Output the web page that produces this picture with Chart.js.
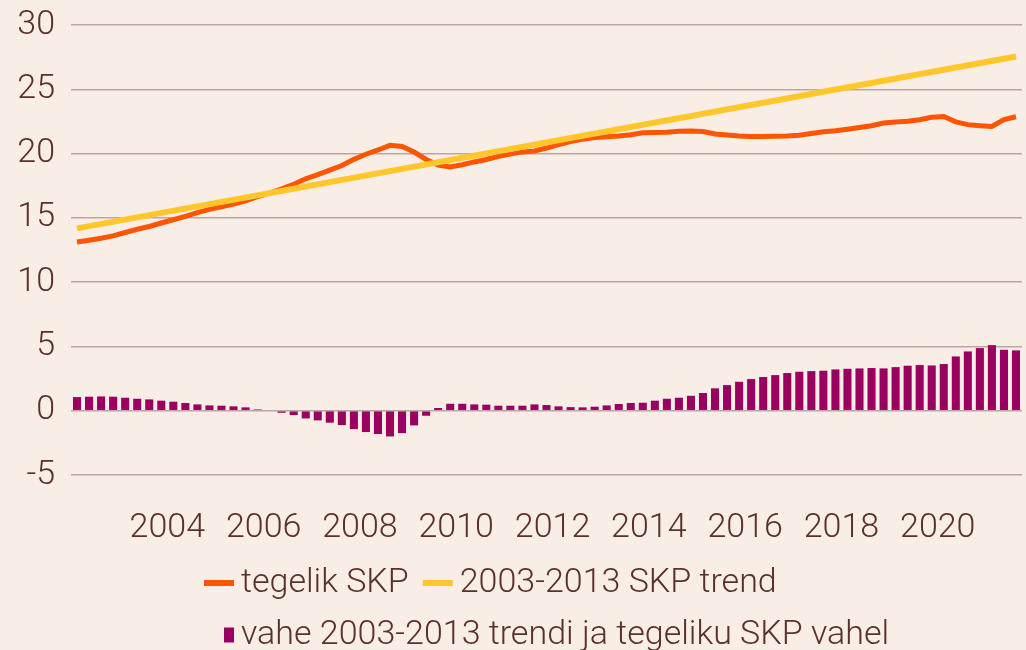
<!DOCTYPE html>
<html>
<head>
<meta charset="utf-8">
<script src="https://cdn.jsdelivr.net/npm/chart.js@4"></script>
<style>
  html, body { margin: 0; padding: 0; background: #f8eee5; }
  #wrap { width: 1026px; height: 650px; }
</style>
</head>
<body>
<div id="wrap"><canvas id="chart"></canvas></div>
<script>
// quarterly categories, 2002 Q1 .. 2021 Q3
var years = [];
for (var y = 2002; y <= 2021; y++) years.push(y);
var labels = [];
years.forEach(function (yr) {
  for (var q = 1; q <= 4; q++) labels.push(yr + " Q" + q);
});
labels = labels.slice(0, 79);

var tickYears = ["2004", "2006", "2008", "2010", "2012", "2014", "2016", "2018", "2020"];

// tegelik SKP
var actual = [
  13.12, 13.26, 13.41, 13.60, 13.86, 14.11, 14.33, 14.60, 14.85, 15.12,
  15.40, 15.66, 15.85, 16.07, 16.32, 16.65, 16.92, 17.25, 17.61, 18.04,
  18.36, 18.71, 19.07, 19.55, 19.95, 20.28, 20.64, 20.55, 20.12, 19.54,
  19.11, 18.95, 19.13, 19.35, 19.54, 19.79, 19.96, 20.13, 20.20, 20.43,
  20.70, 20.93, 21.12, 21.24, 21.31, 21.37, 21.46, 21.62, 21.63, 21.65,
  21.74, 21.76, 21.71, 21.52, 21.45, 21.36, 21.32, 21.33, 21.35, 21.36,
  21.43, 21.56, 21.70, 21.77, 21.89, 22.03, 22.17, 22.37, 22.45, 22.51,
  22.63, 22.83, 22.89, 22.47, 22.25, 22.17, 22.11, 22.64, 22.86
];

// 2003-2013 SKP trend (straight line, start and end values)
var trendStart = 14.18;
var trendEnd = 27.55;

// vahe trendi ja tegeliku SKP vahel
var gap = [
  1.06, 1.09, 1.11, 1.09, 1.01, 0.93, 0.88, 0.78, 0.70, 0.60,
  0.49, 0.41, 0.39, 0.34, 0.26, 0.10, 0.00, -0.16, -0.34, -0.60,
  -0.75, -0.93, -1.12, -1.43, -1.66, -1.81, -2.00, -1.74, -1.14, -0.39,
  0.21, 0.54, 0.54, 0.49, 0.47, 0.39, 0.39, 0.39, 0.49, 0.44,
  0.34, 0.28, 0.26, 0.31, 0.41, 0.52, 0.60, 0.62, 0.78, 0.93,
  1.01, 1.16, 1.38, 1.74, 1.99, 2.25, 2.46, 2.62, 2.77, 2.93,
  3.03, 3.08, 3.11, 3.21, 3.26, 3.29, 3.32, 3.29, 3.39, 3.50,
  3.55, 3.52, 3.63, 4.22, 4.61, 4.87, 5.10, 4.74, 4.69
];

var txt = "#5a302c";
var gridCol = "#bca6a1";
var FONT = { family: "Roboto", size: 34, weight: 300 };

// legend marks: canvas 80 wide, centred on box middle (x+8), so offset 32 = box start
function swatch(x0, w, h, col) {
  var c = document.createElement("canvas");
  c.width = 80; c.height = 18;
  var g = c.getContext("2d");
  g.fillStyle = col;
  g.fillRect(32 + x0, (18 - h) / 2, w, h);
  return c;
}
var marks = [
  swatch(-4, 30, 6, "#ff5500"),
  swatch(-4, 30, 6, "#ffc72c"),
  swatch(16, 10, 15, "#990060")
];

var bgPlugin = {
  id: "bg",
  beforeDraw: function (chart) {
    var ctx = chart.ctx;
    ctx.save();
    ctx.fillStyle = "#f8eee5";
    ctx.fillRect(0, 0, chart.width, chart.height);
    ctx.restore();
  }
};

// move the legend block to where the reference has it,
// and let the x labels draw below the (short) x axis box
var legendPos = {
  id: "legendPos",
  afterLayout: function (chart) {
    var lg = chart.legend;
    lg.left = 190;
    lg.top += 12;
    chart.scales.x.bottom += 30;
  }
};

new Chart(document.getElementById("chart"), {
  type: "bar",
  data: {
    labels: labels,
    datasets: [
      {
        type: "line",
        label: "tegelik SKP",
        data: actual,
        borderColor: "#ff5500",
        backgroundColor: "#ff5500",
        borderWidth: 5,
        pointRadius: 0,
        tension: 0,
        order: 1
      },
      {
        type: "line",
        label: "2003-2013 SKP trend",
        data: [{ x: labels[0], y: trendStart }, { x: labels[labels.length - 1], y: trendEnd }],
        borderColor: "#ffc72c",
        backgroundColor: "#ffc72c",
        borderWidth: 6,
        pointRadius: 0,
        order: 0
      },
      {
        label: "vahe 2003-2013 trendi ja tegeliku SKP vahel",
        data: gap,
        backgroundColor: "#990060",
        barPercentage: 0.67,
        categoryPercentage: 1,
        order: 2
      }
    ]
  },
  options: {
    responsive: true,
    maintainAspectRatio: false,
    animation: false,
    layout: { padding: { top: 25, right: 4, left: 0, bottom: 0 } },
    plugins: {
      tooltip: { enabled: false },
      legend: {
        position: "bottom",
        align: "start",
        labels: {
          color: txt,
          font: FONT,
          usePointStyle: true,
          pointStyleWidth: 16,
          padding: 18,
          sort: function (a, b) { return a.datasetIndex - b.datasetIndex; },
          generateLabels: function (chart) {
            var items = Chart.defaults.plugins.legend.labels.generateLabels(chart);
            items.forEach(function (it) { it.pointStyle = marks[it.datasetIndex]; });
            return items;
          }
        }
      }
    },
    scales: {
      x: {
        grid: { display: false, drawTicks: false },
        border: { display: false },
        ticks: {
          autoSkip: false,
          maxRotation: 0,
          color: txt,
          font: { family: "Roboto", size: 34, weight: 300, lineHeight: 3.12 },
          padding: 0,
          labelOffset: -6,
          callback: function (v) {
            var l = labels[v];
            var yr = l.slice(0, 4);
            return (l.slice(5) === "Q1" && tickYears.indexOf(yr) >= 0) ? yr : "";
          }
        },
        afterFit: function (s) { s.height = 61; }
      },
      y: {
        min: -5,
        max: 30,
        grid: { color: gridCol, lineWidth: 1.5, drawTicks: true, tickLength: 16, tickColor: "rgba(0,0,0,0)" },
        border: { display: false },
        ticks: { stepSize: 5, color: txt, font: FONT, padding: 0 },
        afterFit: function (s) { s.width = 71; }
      }
    }
  },
  plugins: [bgPlugin, legendPos]
});
</script>
</body>
</html>
